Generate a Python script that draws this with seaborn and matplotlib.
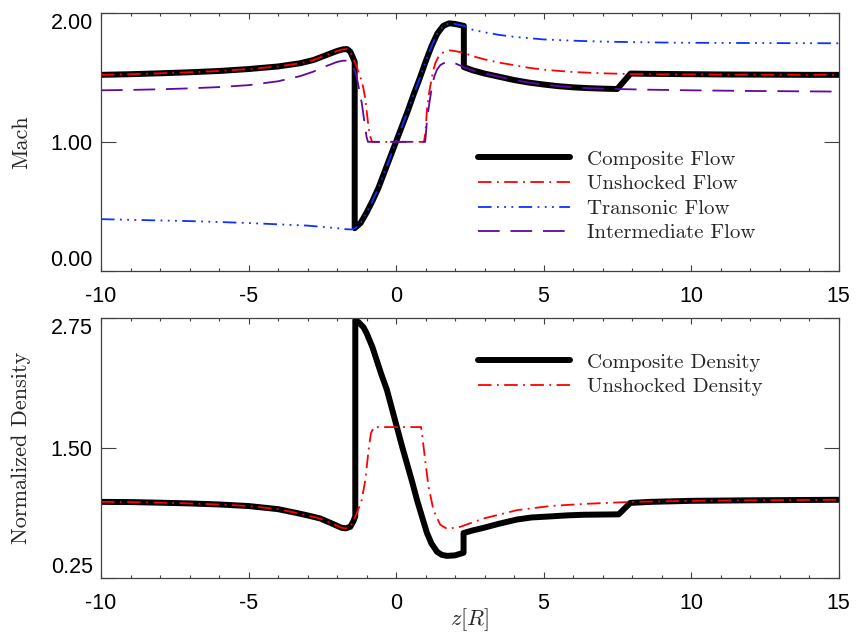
import numpy as np
import matplotlib
matplotlib.use("Agg")
import matplotlib.pyplot as plt
from matplotlib.ticker import MultipleLocator
import seaborn as sns

# ---------------- data ----------------
z_comp = [-10, -9, -8, -7, -6, -5, -4, -3.25, -2.8, -2.4, -2.0, -1.8, -1.66, -1.55, -1.47, -1.4,
          -1.4, -1.3, -1.2, -1.0, -0.8, -0.6, -0.4, -0.2, 0.0, 0.2, 0.4, 0.6, 0.8, 1.0, 1.2, 1.4,
          1.6, 1.8, 2.0, 2.3, 2.3, 2.6, 3.0, 3.5, 4.0, 4.5, 5.0, 5.5, 6.0, 6.5, 7.0, 7.5, 7.95,
          8.5, 9, 10, 11, 12, 13, 14, 15]
m_comp = [1.52, 1.525, 1.532, 1.54, 1.55, 1.565, 1.585, 1.61, 1.635, 1.67, 1.705, 1.718, 1.72, 1.70, 1.66, 1.62,
          0.33, 0.35, 0.37, 0.45, 0.54, 0.64, 0.76, 0.88, 1.00, 1.12, 1.24, 1.37, 1.49, 1.62, 1.74, 1.84,
          1.90, 1.92, 1.915, 1.90, 1.58, 1.555, 1.53, 1.505, 1.48, 1.46, 1.445, 1.432, 1.423, 1.417, 1.413, 1.41, 1.53,
          1.528, 1.527, 1.525, 1.523, 1.522, 1.521, 1.52, 1.52]

z_unsh = [-10, -9, -8, -7, -6, -5, -4, -3.25, -2.8, -2.4, -2.0, -1.8, -1.66, -1.55, -1.47, -1.4,
          -1.33, -1.25, -1.16, -1.1, -1.04, -1.0, -0.96, -0.92, -0.87, -0.82, -0.78, 0.95,
          1.0, 1.05, 1.1, 1.16, 1.25, 1.33, 1.45, 1.56, 1.8, 2.0, 2.3, 2.6, 3.0, 3.5, 4.0, 4.5,
          5.0, 6.0, 7.0, 8.0, 9, 10, 12, 15]
m_unsh = [1.52, 1.525, 1.532, 1.54, 1.55, 1.565, 1.585, 1.61, 1.635, 1.67, 1.705, 1.718, 1.72, 1.70, 1.66, 1.62,
          1.58, 1.53, 1.47, 1.41, 1.33, 1.25, 1.17, 1.10, 1.04, 1.005, 1.0, 1.0,
          1.08, 1.25, 1.35, 1.43, 1.54, 1.61, 1.665, 1.69, 1.71, 1.705, 1.69, 1.665, 1.64, 1.615, 1.595, 1.575,
          1.56, 1.542, 1.532, 1.526, 1.524, 1.523, 1.521, 1.52]

z_tran = [-10, -9, -8, -7, -6, -5, -4, -3, -2.5, -2.0, -1.7, -1.5, -1.38, -1.3, -1.2, -1.0, -0.8, -0.6,
          -0.4, -0.2, 0.0, 0.2, 0.4, 0.6, 0.8, 1.0, 1.2, 1.4, 1.6, 1.8, 2.0, 2.3, 2.6, 3.0, 3.5, 4.0,
          4.5, 5.0, 6.0, 7.0, 8.0, 9.0, 10, 12, 15]
m_tran = [0.40, 0.395, 0.39, 0.385, 0.378, 0.37, 0.36, 0.35, 0.34, 0.33, 0.322, 0.32, 0.33, 0.35, 0.37, 0.45, 0.54, 0.64,
          0.76, 0.88, 1.00, 1.12, 1.24, 1.37, 1.49, 1.62, 1.74, 1.84, 1.90, 1.92, 1.915, 1.90, 1.87, 1.85, 1.83, 1.815,
          1.805, 1.795, 1.785, 1.778, 1.774, 1.771, 1.769, 1.767, 1.765]

z_inter = [-10, -9, -8, -7, -6, -5, -4, -3.25, -2.8, -2.4, -2.0, -1.8, -1.66, -1.55, -1.46, -1.38, -1.32,
           -1.27, -1.16, -1.08, -1.0, -0.95, 0.99, 1.02, 1.05, 1.13, 1.22, 1.3, 1.39, 1.5, 1.61, 1.84, 2.0,
           2.3, 2.6, 3.0, 3.5, 4.0, 4.5, 5.0, 5.5, 6.0, 6.5, 7.0, 7.5, 8.5, 10, 12, 15]
m_inter = [1.40, 1.403, 1.408, 1.415, 1.425, 1.44, 1.47, 1.51, 1.545, 1.585, 1.62, 1.63, 1.63, 1.615, 1.585, 1.54, 1.49,
           1.43, 1.30, 1.17, 1.04, 1.0, 1.0, 1.08, 1.17, 1.30, 1.43, 1.51, 1.56, 1.595, 1.61, 1.62, 1.61,
           1.58, 1.555, 1.53, 1.505, 1.48, 1.46, 1.445, 1.432, 1.423, 1.417, 1.413, 1.41, 1.405, 1.40, 1.395, 1.39]

z_dcomp = [-10, -9, -8, -7, -6, -5, -4, -3.4, -3, -2.57, -2.2, -1.84, -1.7, -1.55, -1.45, -1.38,
           -1.38, -1.27, -1.1, -0.99, -0.8, -0.65, -0.5, -0.31, -0.15, 0.03, 0.2, 0.37, 0.55, 0.71, 0.9,
           1.05, 1.2, 1.39, 1.55, 1.73, 2.0, 2.29, 2.29, 2.6, 2.97, 3.5, 4.1, 4.6, 5.23, 5.8, 6.36, 7.0,
           7.55, 7.94, 8.62, 10, 12, 15]
d_comp = [0.98, 0.978, 0.972, 0.965, 0.955, 0.94, 0.91, 0.875, 0.85, 0.82, 0.775, 0.73, 0.725, 0.74, 0.79, 0.84,
          2.73, 2.71, 2.66, 2.60, 2.47, 2.34, 2.21, 2.06, 1.89, 1.70, 1.52, 1.35, 1.17, 1.0, 0.82,
          0.68, 0.58, 0.50, 0.47, 0.46, 0.465, 0.49, 0.68, 0.705, 0.73, 0.77, 0.81, 0.83, 0.84, 0.85, 0.856, 0.858,
          0.86, 0.97, 0.98, 0.99, 0.995, 1.0]

z_dunsh = [-10, -9, -8, -7, -6, -5, -4, -3.4, -3, -2.57, -2.2, -1.84, -1.7, -1.55, -1.45, -1.38,
           -1.33, -1.25, -1.16, -1.04, -0.93, -0.85, -0.75, 0.85, 0.88, 0.99, 1.1, 1.27, 1.5, 1.73, 2.18,
           2.97, 4.1, 5.23, 6.36, 7.49, 8.0, 10, 12, 15]
d_unsh = [0.98, 0.978, 0.972, 0.965, 0.955, 0.94, 0.91, 0.875, 0.85, 0.82, 0.775, 0.73, 0.725, 0.74, 0.79, 0.84,
          0.87, 0.93, 1.0, 1.19, 1.48, 1.64, 1.70, 1.70, 1.64, 1.38, 1.13, 0.90, 0.76, 0.72, 0.74,
          0.82, 0.90, 0.94, 0.96, 0.974, 0.98, 0.99, 0.995, 1.0]

x_ticks = [-10, -5, 0, 5, 10, 15]
x_tick_labels = ["-10", "-5", "0", "5", "10", "15"]
mach_ticks = [0.0, 1.0, 2.0]
mach_tick_labels = ["0.00", "1.00", "2.00"]
dens_ticks = [0.25, 1.50, 2.75]
dens_tick_labels = ["0.25", "1.50", "2.75"]

flow_labels = ["Composite Flow", "Unshocked Flow", "Transonic Flow", "Intermediate Flow"]
dens_labels = ["Composite Density", "Unshocked Density"]

# ---------------- styling ----------------
sns.set_theme(style="white")
plt.rcParams["mathtext.fontset"] = "cm"

RED = "#ff0000"
BLUE = "#1030ff"
PURPLE = "#5e0aa0"
SPINE = "#404040"
TICKFONT = "Liberation Sans"
SERIF = "cmr10"

fig = plt.figure(figsize=(8.56, 6.35), dpi=100)
ax1 = fig.add_axes([101 / 856, 1 - 270.7 / 635, 737.5 / 856, 257.7 / 635])
ax2 = fig.add_axes([101 / 856, 1 - 577.7 / 635, 737.5 / 856, 259.7 / 635])

lw_thin = 1.3
ls_dashdot = (0, (7.5, 3.0, 1.0, 3.0))
ls_dash3dot = (0, (7.5, 3.0, 1.0, 3.0, 1.0, 3.0, 1.0, 3.0))
ls_long = (0, (12.0, 6.0))

common = dict(estimator=None, sort=False)

# top panel
sns.lineplot(x=z_comp, y=m_comp, ax=ax1, color="black", lw=4.3, label=flow_labels[0], **common)
sns.lineplot(x=z_unsh, y=m_unsh, ax=ax1, color=RED, lw=lw_thin, linestyle=ls_dashdot, label=flow_labels[1], **common)
sns.lineplot(x=z_tran, y=m_tran, ax=ax1, color=BLUE, lw=lw_thin, linestyle=ls_dash3dot, label=flow_labels[2], **common)
sns.lineplot(x=z_inter, y=m_inter, ax=ax1, color=PURPLE, lw=lw_thin, linestyle=ls_long, label=flow_labels[3], **common)

# bottom panel
sns.lineplot(x=z_dcomp, y=d_comp, ax=ax2, color="black", lw=4.3, label=dens_labels[0], **common)
sns.lineplot(x=z_dunsh, y=d_unsh, ax=ax2, color=RED, lw=lw_thin, linestyle=ls_dashdot, label=dens_labels[1], **common)

for ax, yt, ytl, ylim in [(ax1, mach_ticks, mach_tick_labels, (0.0, 2.0)),
                          (ax2, dens_ticks, dens_tick_labels, (0.25, 2.75))]:
    ax.set_xlim(-10, 15)
    ax.set_ylim(*ylim)
    ax.set_xticks(x_ticks)
    ax.set_xticklabels(x_tick_labels, fontfamily=TICKFONT, fontsize=15.5)
    ax.xaxis.set_minor_locator(MultipleLocator(1))
    ax.set_yticks(yt)
    ax.set_yticklabels(ytl, fontfamily=TICKFONT, fontsize=15.5)
    ax.tick_params(axis="x", which="major", direction="in", length=4.3, width=0.8,
                   top=True, bottom=True, pad=11, color=SPINE, labelcolor="black")
    ax.tick_params(axis="x", which="minor", direction="in", length=2.2, width=0.8,
                   top=True, bottom=True, color=SPINE)
    ax.tick_params(axis="y", which="major", direction="in", length=10.8, width=0.8,
                   left=True, right=True, pad=6, color=SPINE, labelcolor="black")
    for s in ax.spines.values():
        s.set_visible(True)
        s.set_color(SPINE)
        s.set_linewidth(0.9)
    labs = ax.get_yticklabels()
    labs[0].set_verticalalignment("bottom")
    labs[-1].set_verticalalignment("top")
    ax.set_xlabel("")
    ax.set_ylabel("")

ax1.set_ylabel("Mach", fontfamily=SERIF, fontsize=16, va="center", ha="center")
ax1.yaxis.set_label_coords((21 - 101) / 737.5, 0.5)
ax2.set_ylabel("Normalized Density", fontfamily=SERIF, fontsize=16, va="center", ha="center")
ax2.yaxis.set_label_coords((21 - 101) / 737.5, 0.5)
ax2.set_xlabel(r"$z[R]$", fontsize=16, va="center")
ax2.xaxis.set_label_coords(0.5, (577.7 - 620) / 259.7)

leg_kw = dict(loc="upper left", frameon=False, prop={"family": SERIF, "size": 15},
              handlelength=4.4, handletextpad=0.85, labelspacing=0.29,
              borderpad=0, borderaxespad=0)
ax1.legend(bbox_to_anchor=((478 - 101) / 737.5, (270.7 - 150) / 257.7), **leg_kw)
ax2.legend(bbox_to_anchor=((478 - 101) / 737.5, (577.7 - 353) / 259.7), **leg_kw)

fig.savefig("out.png", dpi=100, facecolor="white")
